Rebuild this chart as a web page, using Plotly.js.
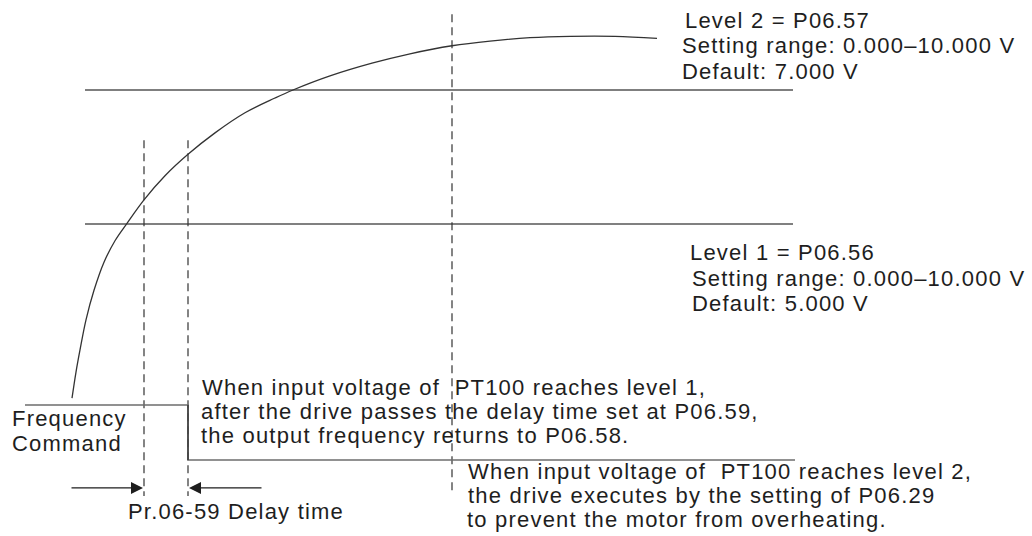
<!DOCTYPE html>
<html>
<head>
<meta charset="utf-8">
<script src="https://cdn.plot.ly/plotly-3.0.1.min.js"></script>
<style>
  html, body { margin: 0; padding: 0; background: #ffffff; }
  #chart { width: 1032px; height: 536px; }
  .annotation-text { letter-spacing: 1.2px; }
</style>
</head>
<body>
<div id="chart"></div>
<script>
// PT100 input voltage rising over time (time in drawing units, voltage in V)
const curveT = [72, 76, 80, 86, 94, 104, 115, 127, 144, 165, 188, 215, 245, 275, 293, 330, 372, 410, 452, 490, 530, 570, 615, 657];
const curveV = [2.40, 2.79, 3.12, 3.57, 4.01, 4.43, 4.75, 5.01, 5.36, 5.72, 6.04, 6.36, 6.66, 6.88, 7.00, 7.21, 7.40, 7.54, 7.66, 7.73, 7.78, 7.80, 7.80, 7.77];

// Threshold levels (V) and the time span they are drawn over
const levelNames = ['Level 1', 'Level 2'];
const levelV = [5.0, 7.0];
const levelSpan = [85, 793];

// Frequency command: high until the delay expires, then back to P06.58
const freqT = [25, 188, 188, 795];
const freqCmd = [1, 1, 0, 0];

// Event markers: level-1 reached, delay expired, level-2 reached
const markerT = [144, 188, 452];
const markerTop = [6.25, 6.25, 8.13];
const markerBottom = [0.94, 0.94, 0.97];

// Delay-time dimension arrows
const delayArrowV = 1.06;
const delayArrowTail = [70, 263];

const W = 1032, H = 536;
const ink = '#1e1e1e';
const font = { family: 'Liberation Sans, Arial, sans-serif', size: 22, color: ink };

const traces = [];

// level lines
levelV.forEach((v, i) => {
  traces.push({
    x: levelSpan, y: [v, v], mode: 'lines', name: levelNames[i],
    line: { color: i === 0 ? '#808080' : '#555555', width: i === 0 ? 2 : 1.4 },
    hoverinfo: 'skip'
  });
});

// dashed event markers
markerT.forEach((t, i) => {
  traces.push({
    x: [t, t], y: [markerTop[i], markerBottom[i]], mode: 'lines',
    line: { color: '#333333', width: 1.2, dash: '8px,5px' },
    hoverinfo: 'skip'
  });
});

// voltage curve
traces.push({
  x: curveT, y: curveV, mode: 'lines', name: 'PT100 voltage',
  line: { color: '#333333', width: 1.3, shape: 'spline', smoothing: 1 },
  hoverinfo: 'skip'
});

// frequency command step
traces.push({
  x: freqT, y: freqCmd, mode: 'lines', yaxis: 'y2', name: 'Frequency Command',
  line: { color: '#6e6e6e', width: 1.6 },
  hoverinfo: 'skip'
});
// solid drop at the end of the delay
traces.push({
  x: [freqT[1], freqT[2]], y: [freqCmd[1], freqCmd[2]], mode: 'lines', yaxis: 'y2',
  line: { color: '#333333', width: 1.3 },
  hoverinfo: 'skip'
});

function px(x) { return x / W; }
function py(y) { return 1 - y / H; }
function label(text, x, y) {
  return {
    xref: 'paper', yref: 'paper', x: px(x), y: py(y),
    xanchor: 'left', yanchor: 'middle', showarrow: false,
    text: text, font: font, borderpad: 0
  };
}

const annotations = [
  label('Level 2 = P06.57', 684, 20),
  label('Setting range: 0.000\u201310.000 V', 681, 46),
  label('Default: 7.000 V', 681, 72),

  label('Level 1 = P06.56', 689, 253),
  label('Setting range: 0.000\u201310.000 V', 691, 278),
  label('Default: 5.000 V', 691, 303),

  label('When input voltage of\u00a0 PT100 reaches level 1,', 201, 387),
  label('after the drive passes the delay time set at P06.59,', 200, 411),
  label('the output frequency returns to P06.58.', 200, 435),

  label('When input voltage of\u00a0 PT100 reaches level 2,', 467, 471),
  label('the drive executes by the setting of P06.29', 467, 495),
  label('to prevent the motor from overheating.', 466, 519),

  label('Frequency', 11, 418),
  label('Command', 11, 443),

  label('Pr.06-59 Delay time', 127, 511)
];

// delay arrows pointing at the two markers
[markerT[0] - 1, markerT[1] + 1].forEach((tip, i) => {
  annotations.push({
    xref: 'x', yref: 'y', axref: 'x', ayref: 'y',
    x: tip, y: delayArrowV, ax: delayArrowTail[i], ay: delayArrowV,
    showarrow: true, arrowhead: 2, arrowsize: 2, arrowwidth: 1.2,
    arrowcolor: ink, standoff: 0, startstandoff: 0, text: ''
  });
});

const layout = {
  width: W, height: H,
  margin: { l: 0, r: 0, t: 0, b: 0, pad: 0 },
  paper_bgcolor: '#ffffff', plot_bgcolor: '#ffffff',
  showlegend: false,
  xaxis: { range: [0, W], visible: false, fixedrange: true },
  yaxis: { range: [0.343, 8.343], visible: false, fixedrange: true },
  yaxis2: { range: [-1.3818, 8.3636], overlaying: 'y', visible: false, fixedrange: true },
  annotations: annotations
};

Plotly.newPlot('chart', traces, layout, { staticPlot: true, displayModeBar: false });
</script>
</body>
</html>
